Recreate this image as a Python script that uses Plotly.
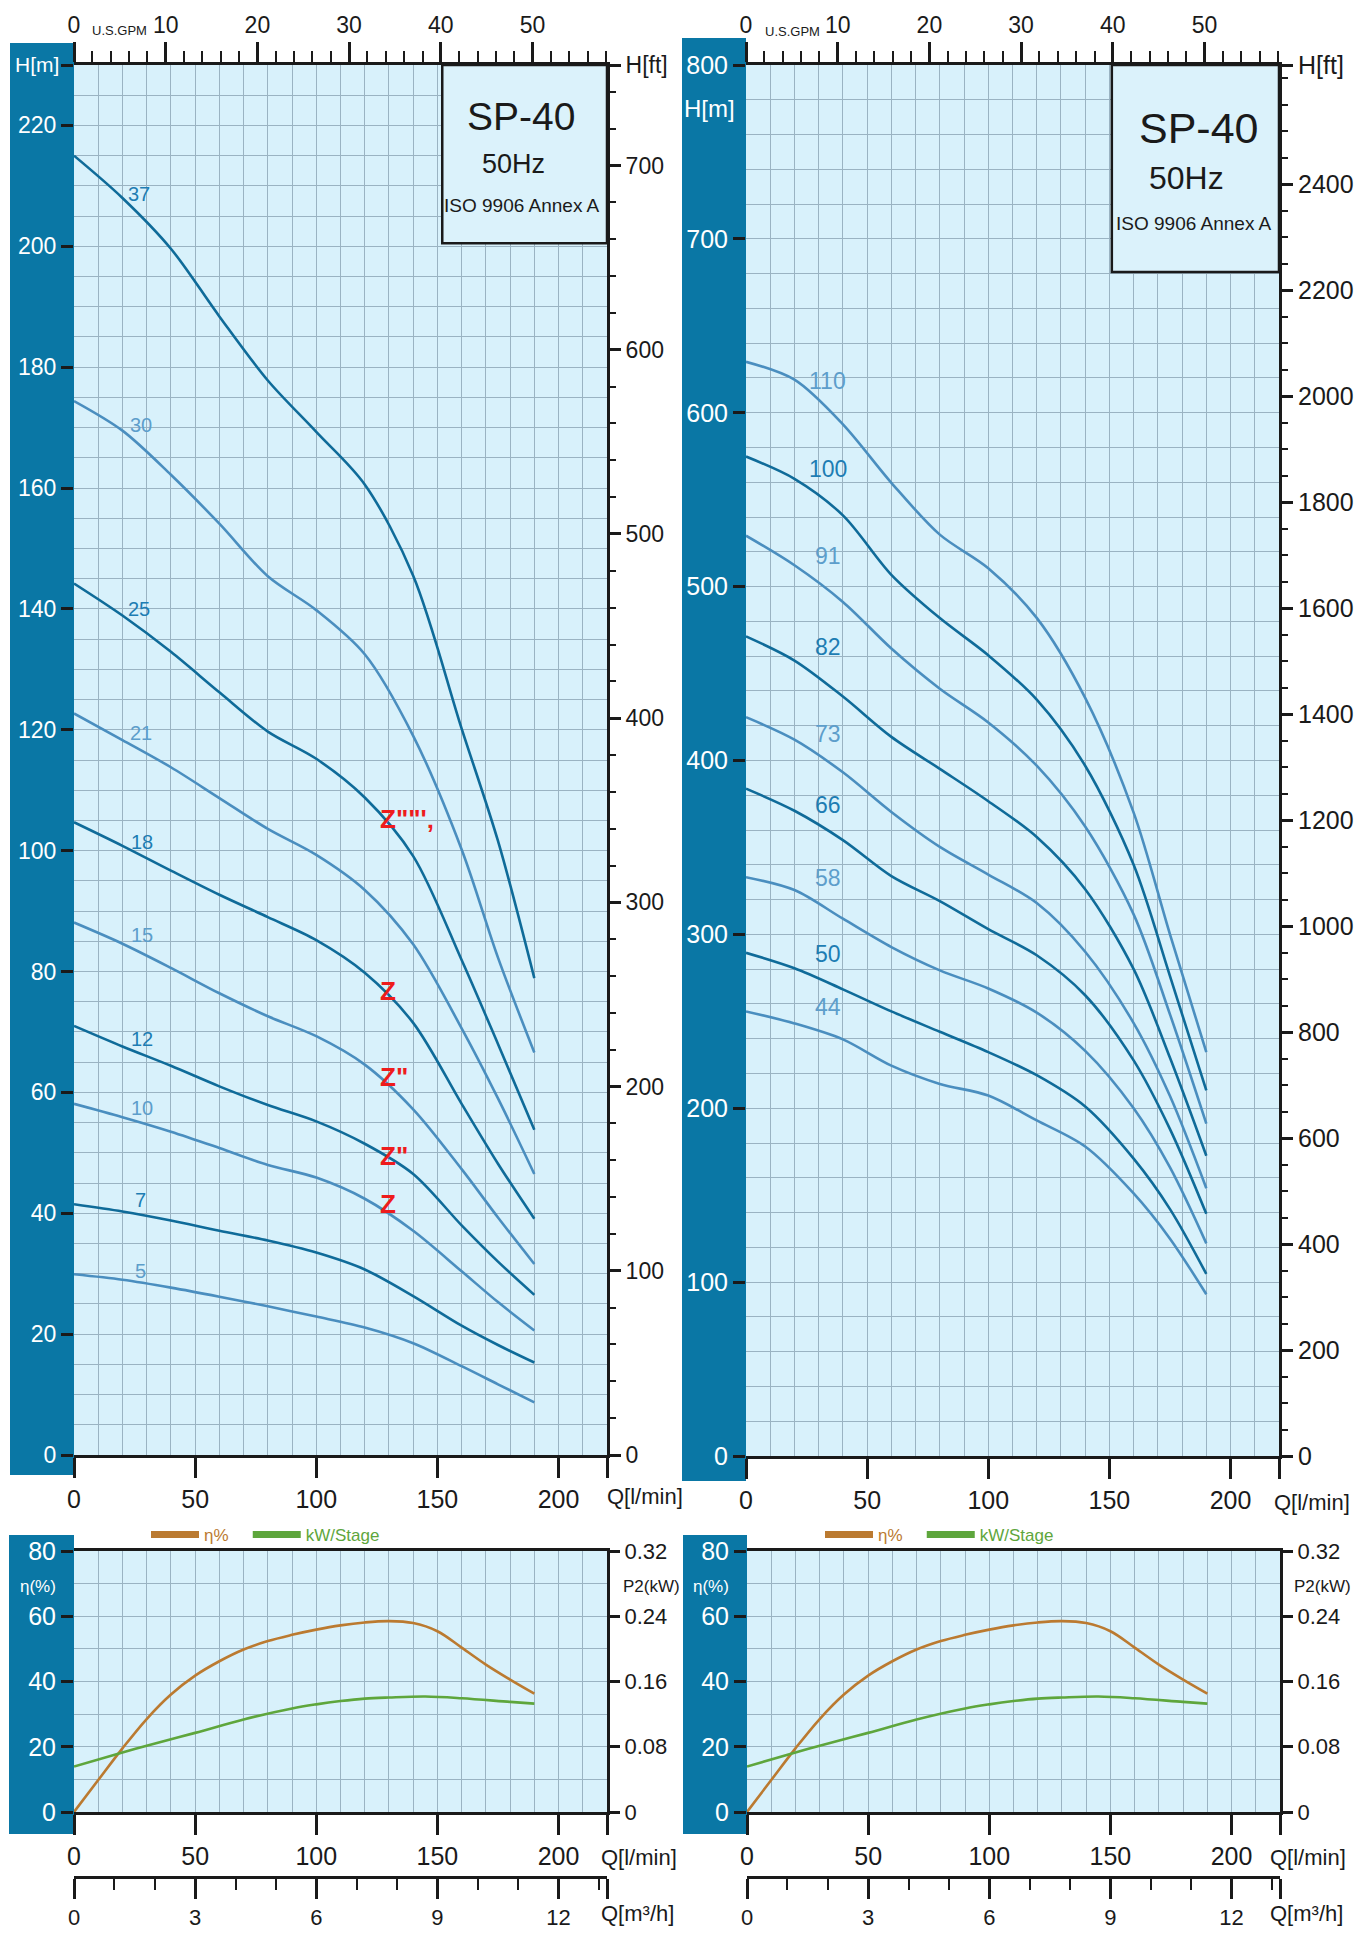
import plotly.graph_objects as go

W, H = 1363, 1935
OFF = 8                      # page margin of the html body
FW, FH = W - OFF, H - OFF    # figure size so that the figure ends at the window edge

# ---------------- data ----------------
Q_CURVE = [0, 20, 40, 60, 80, 100, 120, 140, 160, 175, 190]          # l/min

LEFT_STAGES = [37, 30, 25, 21, 18, 15, 12, 10, 7, 5]
H_37 = [215.0, 208.0, 199.6, 188.4, 177.8, 169.3, 160.6, 145.5, 120.2, 101.6, 78.9]
H_30 = [174.4, 169.5, 162.2, 154.1, 145.4, 139.8, 132.5, 119.0, 100.2, 82.3, 66.6]
H_25 = [144.2, 138.9, 132.9, 126.2, 119.7, 115.2, 108.8, 99.1, 81.9, 68.0, 53.8]
H_21 = [122.7, 118.3, 113.8, 108.7, 103.6, 99.3, 93.5, 84.5, 70.6, 59.0, 46.5]
H_18 = [104.7, 100.8, 96.7, 92.7, 89.0, 85.2, 79.8, 71.5, 58.1, 48.2, 39.1]
H_15 = [88.1, 84.6, 80.6, 76.4, 72.6, 69.3, 64.6, 57.2, 47.3, 39.3, 31.6]
H_12 = [71.0, 67.6, 64.4, 61.0, 57.9, 55.2, 51.5, 46.5, 38.0, 32.0, 26.5]
H_10 = [58.1, 55.9, 53.5, 50.8, 48.0, 45.9, 42.4, 37.1, 30.4, 25.3, 20.6]
H_7 = [41.5, 40.3, 38.8, 37.1, 35.5, 33.5, 30.7, 26.3, 21.4, 18.2, 15.3]
H_5 = [29.9, 29.0, 27.7, 26.2, 24.6, 22.9, 21.1, 18.5, 14.7, 11.7, 8.7]

RIGHT_STAGES = [110, 100, 91, 82, 73, 66, 58, 50, 44]
H_110 = [629.3, 619.0, 593.3, 559.7, 529.9, 510.6, 482.0, 436.0, 370.0, 300.0, 232.3]
H_100 = [574.8, 562.0, 541.0, 506.8, 481.9, 460.5, 435.0, 397.0, 340.0, 276.0, 210.3]
H_91 = [529.3, 512.3, 491.2, 464.4, 441.3, 421.9, 397.0, 362.0, 311.5, 254.0, 191.2]
H_82 = [471.4, 457.5, 436.8, 413.6, 395.2, 376.6, 356.0, 326.0, 280.0, 229.0, 172.7]
H_73 = [424.9, 412.0, 393.2, 370.4, 350.3, 334.4, 318.0, 290.0, 249.0, 207.0, 154.0]
H_66 = [383.8, 371.1, 354.2, 333.5, 319.1, 303.0, 288.0, 265.0, 227.5, 188.0, 139.3]
H_58 = [332.9, 325.5, 309.0, 292.7, 279.3, 268.9, 255.0, 233.0, 200.0, 166.0, 122.3]
H_50 = [289.4, 280.5, 268.4, 255.7, 244.0, 232.3, 219.0, 201.0, 171.0, 142.0, 104.7]
H_44 = [255.7, 248.8, 239.6, 224.5, 214.0, 207.3, 193.0, 178.0, 151.0, 125.0, 93.0]

# efficiency / power per stage
Q_ETA = [0, 10, 20, 30, 40, 50, 60, 70, 80, 90, 100, 110, 120, 130, 140, 150, 160, 170, 180, 190]
ETA = [0, 9.8, 19.5, 28.5, 36.0, 41.8, 46.2, 49.8, 52.4, 54.3, 55.9, 57.2, 58.1, 58.5, 57.9, 55.4, 50.4, 45.2, 40.6, 36.3]
Q_KW = [0, 20, 30, 50, 70, 90, 100, 110, 120, 130, 145, 160, 180, 190]
KW = [0.0557, 0.0730, 0.0813, 0.0970, 0.1135, 0.1270, 0.1320, 0.1360, 0.1390, 0.1404, 0.1416, 0.1395, 0.1350, 0.1329]

# curve label anchors (l/min, m)
LEFT_LABEL_Q = [27.0, 27.7, 27.0, 27.6, 28.0, 28.0, 28.0, 28.0, 27.4, 27.4]
LEFT_LABEL_H = [208.7, 170.5, 140.0, 119.5, 101.5, 86.0, 68.9, 57.5, 42.2, 30.5]
RIGHT_LABEL_Q = [33.8] * 9
RIGHT_LABEL_H = [618.5, 567.5, 517.5, 465.0, 415.0, 374.5, 332.5, 289.0, 258.0]

# red "Z" marks on the left chart
Z_TEXT = ['Z""\'\u201a', 'Z', 'Z"', 'Z"', 'Z']
Z_Q = [125.5, 125.5, 125.5, 125.5, 125.5]
Z_H = [105.3, 76.7, 62.5, 49.5, 41.5]

# axis ticks
M_TICKS_L = [0, 20, 40, 60, 80, 100, 120, 140, 160, 180, 200, 220]
M_TICKS_R = [0, 100, 200, 300, 400, 500, 600, 700, 800]
FT_TICKS_L = [0, 100, 200, 300, 400, 500, 600, 700]
FT_TICKS_R = [0, 200, 400, 600, 800, 1000, 1200, 1400, 1600, 1800, 2000, 2200, 2400]
Q_TICKS = [0, 50, 100, 150, 200]
GPM_TICKS = [0, 10, 20, 30, 40, 50]
ETA_TICKS = [0, 20, 40, 60, 80]
KW_TICKS = [0, 0.08, 0.16, 0.24, 0.32]
M3H_TICKS = [0, 3, 6, 9, 12]

LPM_PER_GPM = 3.785411784
FT_PER_M = 3.28084
Q_MAX = 220

# ---------------- style ----------------
FONT = "Liberation Sans, Arial, Helvetica, sans-serif"
BAND = "#0a77a5"
BG = "#d8f1fb"
GRID = "#9ab3c2"
DARK = "#0f6b99"
LIGHT = "#4a8ebf"
LBL_DARK = "#1d7db3"
LBL_LIGHT = "#5d9ecb"
ETA_C = "#bb7a30"
KW_C = "#5ea63c"
BLACK = "#1a1a1a"
NBSP = "\u00a0"


def fx(p):
    return (p - OFF) / FW


def fy(p):
    return 1 - (p - OFF) / FH


TL = dict(x=[fx(74), fx(607)], y=[fy(1455), fy(65)])
TR = dict(x=[fx(746), fx(1279)], y=[fy(1456), fy(65)])
BL = dict(x=[fx(74), fx(607)], y=[fy(1812), fy(1551)])
BR = dict(x=[fx(747), fx(1280)], y=[fy(1812), fy(1551)])

fig = go.Figure()

left_curves = [H_37, H_30, H_25, H_21, H_18, H_15, H_12, H_10, H_7, H_5]
right_curves = [H_110, H_100, H_91, H_82, H_73, H_66, H_58, H_50, H_44]

for i, (st, hv) in enumerate(zip(LEFT_STAGES, left_curves)):
    fig.add_trace(go.Scatter(x=Q_CURVE, y=hv, mode="lines", xaxis="x", yaxis="y",
                             line=dict(color=DARK if i % 2 == 0 else LIGHT, width=2.6,
                                       shape="spline", smoothing=0.9),
                             name=str(st), showlegend=False, hoverinfo="skip"))
fig.add_trace(go.Scatter(x=[None], y=[None], xaxis="x2", yaxis="y2", showlegend=False, hoverinfo="skip"))

for i, (st, hv) in enumerate(zip(RIGHT_STAGES, right_curves)):
    fig.add_trace(go.Scatter(x=Q_CURVE, y=hv, mode="lines", xaxis="x3", yaxis="y3",
                             line=dict(color=LIGHT if i % 2 == 0 else DARK, width=2.6,
                                       shape="spline", smoothing=0.9),
                             name=str(st), showlegend=False, hoverinfo="skip"))
fig.add_trace(go.Scatter(x=[None], y=[None], xaxis="x4", yaxis="y4", showlegend=False, hoverinfo="skip"))

for xa, ya_eta, ya_kw, xa_m3, leg in [("x5", "y5", "y6", "x6", "legend"), ("x7", "y7", "y8", "x8", "legend2")]:
    fig.add_trace(go.Scatter(x=Q_ETA, y=ETA, mode="lines", xaxis=xa, yaxis=ya_eta,
                             line=dict(color=ETA_C, width=2.6, shape="spline", smoothing=1.0),
                             showlegend=False, hoverinfo="skip"))
    fig.add_trace(go.Scatter(x=Q_KW, y=KW, mode="lines", xaxis=xa, yaxis=ya_kw,
                             line=dict(color=KW_C, width=2.6, shape="spline", smoothing=1.0),
                             showlegend=False, hoverinfo="skip"))
    fig.add_trace(go.Scatter(x=[None], y=[None], xaxis=xa_m3, yaxis=ya_kw, showlegend=False, hoverinfo="skip"))
    fig.add_trace(go.Scatter(x=[None], y=[None], xaxis=xa, yaxis=ya_eta, mode="lines",
                             line=dict(color=ETA_C, width=7),
                             name=f"<span style='color:{ETA_C}'>η%{NBSP * 3}</span>", legend=leg,
                             hoverinfo="skip"))
    fig.add_trace(go.Scatter(x=[None], y=[None], xaxis=xa, yaxis=ya_eta, mode="lines",
                             line=dict(color=KW_C, width=7),
                             name=f"<span style='color:{KW_C}'>kW/Stage</span>", legend=leg,
                             hoverinfo="skip"))


def tf(size, color=BLACK):
    return dict(family=FONT, size=size, color=color)


def q_axis(domain, anchor, mirror=False):
    return dict(domain=domain, anchor=anchor, range=[0, Q_MAX], automargin=False,
                tickmode="array", tickvals=Q_TICKS + [Q_MAX], ticktext=[str(v) for v in Q_TICKS] + [""],
                ticks="outside", ticklen=20, tickwidth=2.5, tickcolor=BLACK,
                showline=True, linecolor=BLACK, linewidth=3, mirror=mirror,
                showgrid=True, gridcolor=GRID, gridwidth=1.3, zeroline=False,
                minor=dict(tickvals=list(range(0, Q_MAX + 1, 10)), showgrid=True, gridcolor=GRID,
                           gridwidth=1.3, ticks=""),
                tickfont=tf(25))


def gpm_axis(overlay, anchor):
    return dict(overlaying=overlay, anchor=anchor, side="top", range=[0, Q_MAX / LPM_PER_GPM],
                automargin=False,
                tickmode="array", tickvals=GPM_TICKS, ticktext=[str(v) for v in GPM_TICKS],
                ticks="outside", ticklen=20, tickwidth=2.5, tickcolor=BLACK,
                minor=dict(tickmode="linear", tick0=0, dtick=2, ticks="outside", ticklen=11,
                           tickwidth=1.8, tickcolor=BLACK, showgrid=False),
                showline=True, linecolor=BLACK, linewidth=3, showgrid=False, zeroline=False,
                tickfont=tf(23))


def m_axis(domain, anchor, top, ticks, minor_step, tick_top, size):
    vals = ticks + ([top - 1e-6] if tick_top else [])
    txt = [str(v) for v in ticks] + ([""] if tick_top else [])
    return dict(domain=domain, anchor=anchor, range=[0, top], tickmode="array", automargin=False,
                tickvals=vals, ticktext=txt, ticks="outside", ticklen=12, tickwidth=2.5,
                tickcolor=BLACK, showline=False, showgrid=True, gridcolor=GRID, gridwidth=1.3,
                zeroline=False,
                minor=dict(tickvals=list(range(0, int(top) + 1, minor_step)), showgrid=True,
                           gridcolor=GRID, gridwidth=1.3, ticks=""),
                tickfont=tf(size, "white"))


def ft_axis(overlay, anchor, top_m, ticks, minor_step, size):
    top = top_m * FT_PER_M
    return dict(overlaying=overlay, anchor=anchor, side="right", range=[0, top], automargin=False,
                tickmode="array", tickvals=ticks + [top - 1e-6],
                ticktext=[str(v) for v in ticks] + ["H[ft]"],
                ticks="outside", ticklen=11, tickwidth=2.5, tickcolor=BLACK,
                minor=dict(tickmode="linear", tick0=0, dtick=minor_step, ticks="outside", ticklen=6,
                           tickwidth=1.5, tickcolor=BLACK, showgrid=False),
                showline=True, linecolor=BLACK, linewidth=3, showgrid=False, zeroline=False,
                tickfont=tf(size))


def eta_axis(domain, anchor):
    return dict(domain=domain, anchor=anchor, range=[0, 80], tickmode="array", automargin=False,
                tickvals=ETA_TICKS, ticktext=[str(v) for v in ETA_TICKS],
                ticks="outside", ticklen=12, tickwidth=2.5, tickcolor=BLACK,
                showline=False, showgrid=True, gridcolor=GRID, gridwidth=1.3, zeroline=False,
                minor=dict(tickvals=list(range(0, 81, 10)), showgrid=True, gridcolor=GRID,
                           gridwidth=1.3, ticks=""),
                tickfont=tf(25, "white"))


def kw_axis(overlay, anchor):
    return dict(overlaying=overlay, anchor=anchor, side="right", range=[0, 0.32], automargin=False,
                tickmode="array", tickvals=KW_TICKS, ticktext=["0", "0.08", "0.16", "0.24", "0.32"],
                ticks="outside", ticklen=10, tickwidth=2.5, tickcolor=BLACK,
                showline=True, linecolor=BLACK, linewidth=3, showgrid=False, zeroline=False,
                tickfont=tf(22))


def m3h_axis(overlay):
    return dict(overlaying=overlay, anchor="free", position=fy(1877), side="bottom", automargin=False,
                range=[0, Q_MAX * 0.06], tickmode="array", tickvals=M3H_TICKS + [Q_MAX * 0.06 - 1e-6],
                ticktext=[str(v) for v in M3H_TICKS] + [""],
                ticks="outside", ticklen=20, tickwidth=2.5, tickcolor=BLACK,
                minor=dict(tickmode="linear", tick0=0, dtick=1, ticks="outside", ticklen=11,
                           tickwidth=1.8, tickcolor=BLACK, showgrid=False),
                showline=True, linecolor=BLACK, linewidth=3, showgrid=False, zeroline=False,
                tickfont=tf(22))


fig.update_layout(
    width=FW, height=FH, autosize=False,
    margin=dict(l=0, r=0, t=0, b=0, pad=0),
    paper_bgcolor="white", plot_bgcolor=BG,
    font=dict(family=FONT, color=BLACK),
    xaxis=q_axis(TL["x"], "y"),
    yaxis=m_axis(TL["y"], "x", 230, M_TICKS_L, 5, True, 23),
    xaxis2=gpm_axis("x", "y2"),
    yaxis2=ft_axis("y", "x2", 230, FT_TICKS_L, 20, 23),
    xaxis3=q_axis(TR["x"], "y3"),
    yaxis3=m_axis(TR["y"], "x3", 800, M_TICKS_R, 20, False, 25),
    xaxis4=gpm_axis("x3", "y4"),
    yaxis4=ft_axis("y3", "x4", 800, FT_TICKS_R, 50, 25),
    xaxis5=q_axis(BL["x"], "y5", mirror=True),
    yaxis5=eta_axis(BL["y"], "x5"),
    yaxis6=kw_axis("y5", "x5"),
    xaxis6=m3h_axis("x5"),
    xaxis7=q_axis(BR["x"], "y7", mirror=True),
    yaxis7=eta_axis(BR["y"], "x7"),
    yaxis8=kw_axis("y7", "x7"),
    xaxis8=m3h_axis("x7"),
    legend=dict(orientation="h", x=fx(146), y=fy(1535), xanchor="left", yanchor="middle",
                bgcolor="rgba(0,0,0,0)", font=dict(family=FONT, size=17), itemwidth=48),
    legend2=dict(orientation="h", x=fx(820), y=fy(1535), xanchor="left", yanchor="middle",
                 bgcolor="rgba(0,0,0,0)", font=dict(family=FONT, size=17), itemwidth=48),
)

shapes = []
# blue bands behind the left axes
for x0, x1, y0, y1 in [(10, 74, 43, 1475), (682, 746, 38, 1481), (9, 74, 1535, 1834), (683, 747, 1535, 1834)]:
    shapes.append(dict(type="rect", xref="paper", yref="paper", x0=fx(x0), x1=fx(x1), y0=fy(y1), y1=fy(y0),
                       fillcolor=BAND, line=dict(width=0), layer="below"))
# title boxes
shapes.append(dict(type="rect", xref="x", yref="y", x0=152, x1=220, y0=200.5, y1=230,
                   fillcolor="#dbf2fb", line=dict(color=BLACK, width=2.5), layer="above"))
shapes.append(dict(type="rect", xref="x3", yref="y3", x0=151, x1=220, y0=681, y1=800,
                   fillcolor="#dbf2fb", line=dict(color=BLACK, width=2.5), layer="above"))
fig.update_layout(shapes=shapes)

ann = []
# title texts
for xr, yr, items in [("x", "y", [("SP-40", 184.5, 221.5, 39), ("50Hz", 181.5, 213.6, 27), ("ISO 9906 Annex A", 185, 206.8, 19)]),
                      ("x3", "y3", [("SP-40", 187, 763.7, 43), ("50Hz", 182, 735, 32), ("ISO 9906 Annex A", 185, 709, 19)])]:
    for t, xv, yv, s in items:
        ann.append(dict(text=t, x=xv, y=yv, xref=xr, yref=yr, showarrow=False, font=tf(s)))

# curve labels
for i, (st, qv, hv) in enumerate(zip(LEFT_STAGES, LEFT_LABEL_Q, LEFT_LABEL_H)):
    ann.append(dict(text=str(st), x=qv, y=hv, xref="x", yref="y", showarrow=False,
                    font=tf(20, LBL_DARK if i % 2 == 0 else LBL_LIGHT)))
for i, (st, qv, hv) in enumerate(zip(RIGHT_STAGES, RIGHT_LABEL_Q, RIGHT_LABEL_H)):
    ann.append(dict(text=str(st), x=qv, y=hv, xref="x3", yref="y3", showarrow=False,
                    font=tf(23, LBL_LIGHT if i % 2 == 0 else LBL_DARK)))
# Z marks
for t, qv, hv in zip(Z_TEXT, Z_Q, Z_H):
    ann.append(dict(text=f"<b>{t}</b>", x=qv, y=hv, xref="x", yref="y", xanchor="left", showarrow=False,
                    font=tf(26, "#ee1c1c")))


def pann(text, x, y, xanchor="left", size=21, color=BLACK):
    ann.append(dict(text=text, x=fx(x), y=fy(y), xref="paper", yref="paper", xanchor=xanchor,
                    yanchor="middle", showarrow=False, font=tf(size, color)))


pann("U.S.GPM", 90, 30, size=13)
pann("U.S.GPM", 763, 32, size=13)
pann("Q[l/min]", 605, 1496, size=22)
pann("Q[l/min]", 1272, 1502, size=22)
pann("Q[l/min]", 599, 1857, size=22)
pann("Q[l/min]", 1268, 1857, size=22)
pann("Q[m³/h]", 599, 1913, size=22)
pann("Q[m³/h]", 1268, 1913, size=22)
pann("H[m]", 61, 65, xanchor="right", size=21, color="white")
pann("H[m]", 737, 108, xanchor="right", size=24, color="white")
pann("η(%)", 58, 1586, xanchor="right", size=17, color="white")
pann("η(%)", 731, 1586, xanchor="right", size=17, color="white")
pann("P2(kW)", 621, 1586, size=17)
pann("P2(kW)", 1292, 1586, size=17)

fig.update_layout(annotations=ann)

fig.write_html("out.html")
